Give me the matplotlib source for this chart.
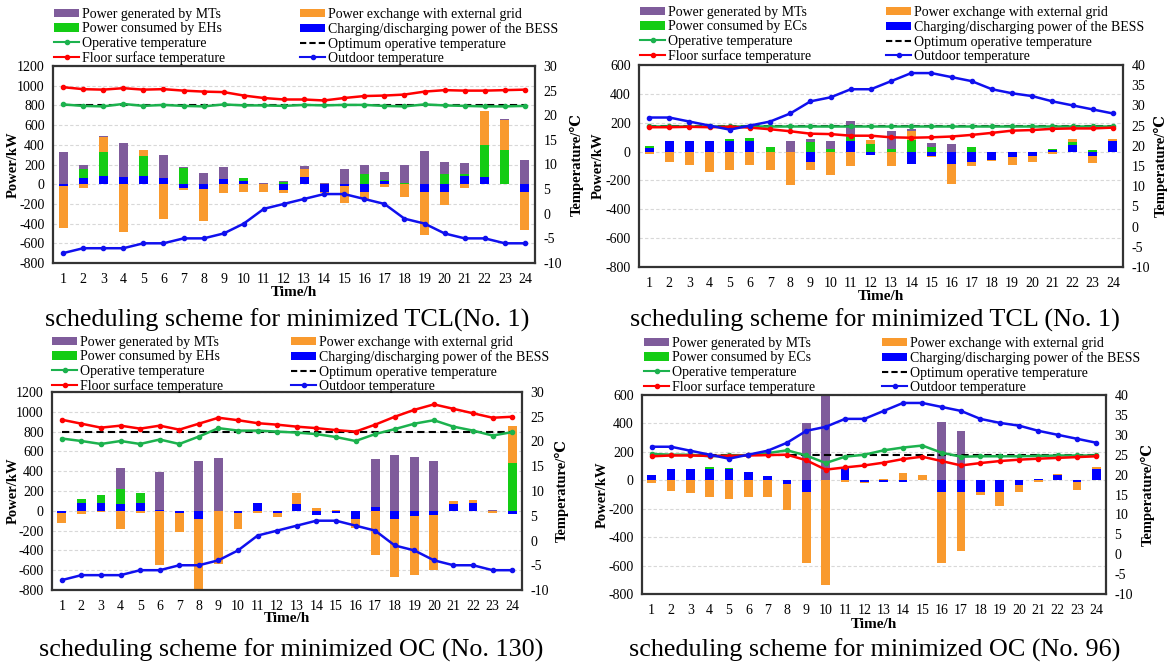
import numpy as np
import matplotlib
matplotlib.use("Agg")
import matplotlib.pyplot as plt
from matplotlib.patches import Patch
from matplotlib.lines import Line2D

plt.rcParams['font.family'] = ['Liberation Serif', 'DejaVu Serif']
plt.rcParams['axes.unicode_minus'] = False

W, H = 1169, 664

hours = list(range(1, 25))

# outdoor temperature, winter (EH cases) and summer (EC cases)
winter_out = [-8, -7, -7, -7, -6, -6, -5, -5, -4, -2, 1, 2, 3, 4, 4, 3, 2, -1, -2, -4, -5, -5, -6, -6]
summer_out = [27, 27, 26, 25, 24, 25, 26, 28, 31, 32, 34, 34, 36, 38, 38, 37, 36, 34, 33, 32.3, 31, 30, 29, 28]

# panel a: minimized TCL (No. 1), EHs
a_bess = [-20, 60, 80, 70, 80, 60, -40, -50, 50, 30, 5, -55, 70, -75, -20, -80, 35, 0, -80, -80, 80, 75, 5, -80]
a_heat = [0, 95, 250, 0, 205, 0, 165, 0, 0, 30, 0, 25, 0, 0, 0, 105, 10, 10, 0, 105, 20, 325, 340, 0]
a_grid = [-420, -40, 150, -490, 65, -350, -20, -320, -85, -75, -80, -30, 80, -15, -170, -70, -25, -125, -440, -130, -40, 345, 310, -390]
a_mt = [330, 35, 10, 345, 0, 235, 5, 110, 120, 0, 10, 5, 30, 15, 155, 90, 80, 185, 340, 125, 120, 0, 10, 245]
a_floor = [25.7, 25.3, 25.2, 25.5, 25.2, 25.3, 25.0, 24.8, 24.7, 24.0, 23.5, 23.2, 23.2, 23.0, 23.5, 23.9, 24.0, 24.2, 24.8, 25.1, 25.0, 25.0, 25.1, 25.2]
a_oper = [22.2, 21.9, 21.8, 22.3, 21.9, 22.1, 21.9, 21.8, 22.2, 22.0, 22.0, 21.9, 22.1, 22.0, 22.1, 22.1, 21.9, 21.8, 22.2, 22.0, 21.9, 21.8, 21.8, 21.9]

# panel b: minimized TCL (No. 1), ECs
b_bess = [25, 75, 75, 75, 75, 75, 0, -5, -75, 0, 75, -25, 0, -85, -30, -85, -70, -55, -35, -30, 10, 45, -30, 75]
b_cool = [15, 0, 0, 0, 10, 20, 35, 0, 65, 20, 25, 55, 15, 80, 30, 0, 30, 0, 0, 0, 5, 20, 10, 0]
b_grid = [-20, -75, -90, -140, -125, -90, -125, -225, -55, -165, -100, 25, -100, 65, -10, -140, -30, -10, -55, -40, -15, 20, -50, 15]
b_mt = [0, 0, 0, 0, 0, 0, 0, 75, 20, 55, 110, 0, 130, 10, 30, 50, 0, 0, 0, 0, 0, 0, 0, 0]
b_floor = [24.6, 24.6, 24.7, 24.6, 24.7, 24.5, 24.1, 23.6, 23.0, 22.9, 22.5, 22.5, 22.1, 22.0, 22.1, 22.3, 22.7, 23.2, 23.75, 23.9, 24.2, 24.3, 24.3, 24.5]
b_oper = [24.9, 24.9, 24.9, 24.9, 24.9, 24.9, 24.9, 24.9, 24.9, 24.9, 24.9, 24.9, 24.9, 24.9, 24.9, 24.9, 24.9, 24.9, 24.9, 24.9, 24.9, 24.9, 24.9, 24.9]

# panel c: minimized OC (No. 130), EHs
c_bess = [-20, 75, 75, 70, 75, 5, -20, -80, 0, -20, 75, -25, 70, -40, -20, -80, 35, -80, -50, -40, 65, 75, 0, -30]
c_heat = [0, 40, 80, 155, 105, 0, 0, 0, 0, 0, 0, 0, 0, 0, 0, 0, 0, 0, 0, 0, 0, 0, 0, 480]
c_grid = [-100, -35, -15, -180, -25, -550, -195, -720, -540, -165, -20, -35, 105, 25, 10, -90, -450, -590, -600, -560, 35, 30, -20, 375]
c_mt = [0, 0, 0, 210, 0, 385, 0, 500, 530, 0, 0, 0, 0, 0, 0, 0, 490, 565, 540, 500, 0, 0, 10, 0]
c_floor = [24.4, 23.6, 22.8, 23.2, 22.6, 23.2, 22.4, 23.6, 24.8, 24.3, 23.7, 23.4, 23.0, 22.7, 22.3, 22.0, 23.4, 25.0, 26.4, 27.5, 26.6, 25.7, 24.8, 25.0]
c_oper = [20.6, 20.1, 19.5, 20.1, 19.5, 20.4, 19.5, 21.0, 22.7, 22.2, 22.2, 22.0, 21.8, 21.5, 20.9, 20.1, 21.5, 22.5, 23.6, 24.3, 23.0, 22.2, 21.2, 21.9]

# panel d: minimized OC (No. 96), ECs
d_bess = [35, 80, 80, 80, 80, 60, 30, -25, -80, 0, 85, -10, -10, -15, 5, -80, -80, -80, -80, -35, 10, 40, -15, 80]
d_cool = [0, 0, 0, 15, 5, 0, 0, 0, 0, 0, 0, 5, 0, 0, 0, 0, 0, 0, 0, 0, 0, 0, 0, 0]
d_grid = [-20, -75, -90, -115, -130, -115, -120, -185, -500, -740, -15, -10, 10, 50, 30, -500, -420, -25, -100, -45, -15, 5, -50, 15]
d_mt = [0, 0, 0, 0, 0, 0, 0, 0, 400, 590, 0, 0, 0, 0, 0, 410, 345, 0, 0, 0, 0, 0, 0, 0]
d_floor = [24.6, 24.8, 24.8, 24.7, 24.7, 24.8, 24.9, 25.0, 23.6, 21.25, 21.8, 22.3, 23.0, 23.9, 24.5, 23.4, 22.3, 22.9, 23.4, 23.75, 24.0, 24.2, 24.4, 24.6]
d_oper = [25.2, 25.0, 25.0, 24.6, 24.8, 24.9, 25.4, 26.1, 24.8, 22.9, 24.5, 25.0, 26.1, 26.8, 27.3, 25.5, 24.5, 24.6, 24.6, 24.6, 24.7, 24.8, 24.8, 24.8]

C_MT = "#7f5c9b"
C_GRID = "#f99a2e"
C_EH = "#14cc14"
C_BESS = "#0000ff"
C_OPER = "#1cb24e"
C_FLOOR = "#ff0000"
C_OUT = "#1010ee"

fig = plt.figure(figsize=(W / 100, H / 100), dpi=100)


def add_ax(left, right, top, bottom):
    return fig.add_axes([left / W, 1 - bottom / H, (right - left) / W, (bottom - top) / H])


def draw_panel(box, series, temps, opt, pylim, tylim, load_name, leg, labels, caption):
    left, right, top, bottom = box
    ax = add_ax(left, right, top, bottom)
    x = np.array(hours)
    pos = np.zeros(24)
    neg = np.zeros(24)
    # Excel-style stacking: BESS, heaters/coolers, grid, MTs
    for vals, col in series:
        v = np.array(vals, dtype=float)
        base = np.where(v >= 0, pos, neg)
        ax.bar(x, v, 0.45, bottom=base, color=col, zorder=2)
        pos += np.clip(v, 0, None)
        neg += np.clip(v, None, 0)
    ax.set_xlim(0.5, 24.5)
    ax.set_ylim(*pylim)
    ax.set_yticks(np.arange(pylim[0], pylim[1] + 1, 200))
    ax.set_xticks(x)
    ax.yaxis.grid(True, color="#d8d8d8", linestyle=(0, (3, 2)), linewidth=0.8)
    ax.set_axisbelow(True)
    ax.tick_params(length=0, labelsize=10)
    ax.tick_params(axis="y", pad=6)
    ax.tick_params(axis="x", pad=7)
    for s in ax.spines.values():
        s.set_color("#333333")
        s.set_linewidth(1.6)

    ax2 = ax.twinx()
    ax2.set_ylim(*tylim)
    ax2.set_yticks(np.arange(tylim[0], tylim[1] + 1, 5))
    ax2.tick_params(length=0, labelsize=10, pad=6)
    outdoor, floor, oper = temps
    ax2.plot(x, [opt] * 24, color="black", linestyle=(0, (3.5, 2)), linewidth=1.5, zorder=3)
    ax2.plot(x, oper, color=C_OPER, marker="o", markersize=3, linewidth=1.8, zorder=4)
    ax2.plot(x, floor, color=C_FLOOR, marker="o", markersize=3, linewidth=1.8, zorder=4)
    ax2.plot(x, outdoor, color=C_OUT, marker="o", markersize=3, linewidth=1.8, zorder=4)
    for s in ax2.spines.values():
        s.set_visible(False)

    h_mt = Patch(facecolor=C_MT)
    h_grid = Patch(facecolor=C_GRID)
    h_eh = Patch(facecolor=C_EH)
    h_bess = Patch(facecolor=C_BESS)
    h_oper = Line2D([], [], color=C_OPER, marker="o", markersize=3, linewidth=1.5)
    h_floor = Line2D([], [], color=C_FLOOR, marker="o", markersize=3, linewidth=1.5)
    h_opt = Line2D([], [], color="black", linestyle=(0, (3, 1.5)), linewidth=1.5)
    h_out = Line2D([], [], color=C_OUT, marker="o", markersize=3, linewidth=1.5)

    x1, x2, ytop = leg
    kw = dict(loc="upper left", frameon=False, borderpad=0, borderaxespad=0,
              handlelength=1.8, handleheight=0.55, handletextpad=0.2,
              labelspacing=0.1, fontsize=10)
    fig.legend([h_mt, h_eh, h_oper, h_floor],
               ["Power generated by MTs", "Power consumed by " + load_name,
                "Operative temperature", "Floor surface temperature"],
               bbox_to_anchor=(x1 / W, 1 - ytop / H), **kw)
    fig.legend([h_grid, h_bess, h_opt, h_out],
               ["Power exchange with external grid", "Charging/discharging power of the BESS",
                "Optimum operative temperature", "Outdoor temperature"],
               bbox_to_anchor=(x2 / W, 1 - ytop / H), **kw)

    ylx, tlx, tly, capx, capy = labels
    mid = (top + bottom) / 2
    fig.text(ylx / W, 1 - mid / H, "Power/kW", rotation=90, ha="center", va="center",
             fontsize=10.5, fontweight="bold")
    fig.text(tlx / W, 1 - mid / H, "Temperature/℃", rotation=90, ha="center", va="center",
             fontsize=10.5, fontweight="bold")
    fig.text((left + right) / 2 / W, 1 - tly / H, "Time/h", ha="center", va="center",
             fontsize=11, fontweight="bold")
    fig.text(capx / W, 1 - capy / H, caption, ha="center", va="center", fontsize=18.8)


draw_panel((53, 535, 66, 263),
           [(a_bess, C_BESS), (a_heat, C_EH), (a_grid, C_GRID), (a_mt, C_MT)],
           (winter_out, a_floor, a_oper), 22, (-800, 1200), (-10, 30), "EHs",
           (54, 300, 8), (13, 577, 293, 287, 320),
           "scheduling scheme for minimized TCL(No. 1)")

draw_panel((639, 1123, 65, 267),
           [(b_bess, C_BESS), (b_cool, C_EH), (b_grid, C_GRID), (b_mt, C_MT)],
           (summer_out, b_floor, b_oper), 25, (-800, 600), (-10, 40), "ECs",
           (640, 886, 6), (598, 1161, 297, 875, 320),
           "scheduling scheme for minimized TCL (No. 1)")

draw_panel((52, 522, 392, 590),
           [(c_bess, C_BESS), (c_heat, C_EH), (c_grid, C_GRID), (c_mt, C_MT)],
           (winter_out, c_floor, c_oper), 22, (-800, 1200), (-10, 30), "EHs",
           (52, 291, 336), (13, 562, 619, 291, 650),
           "scheduling scheme for minimized OC (No. 130)")

draw_panel((642, 1106, 395, 594),
           [(d_bess, C_BESS), (d_cool, C_EH), (d_grid, C_GRID), (d_mt, C_MT)],
           (summer_out, d_floor, d_oper), 25, (-800, 600), (-10, 40), "ECs",
           (644, 882, 337), (602, 1148, 624, 875, 650),
           "scheduling scheme for minimized OC (No. 96)")

fig.savefig("out.png", dpi=100, facecolor="white")
